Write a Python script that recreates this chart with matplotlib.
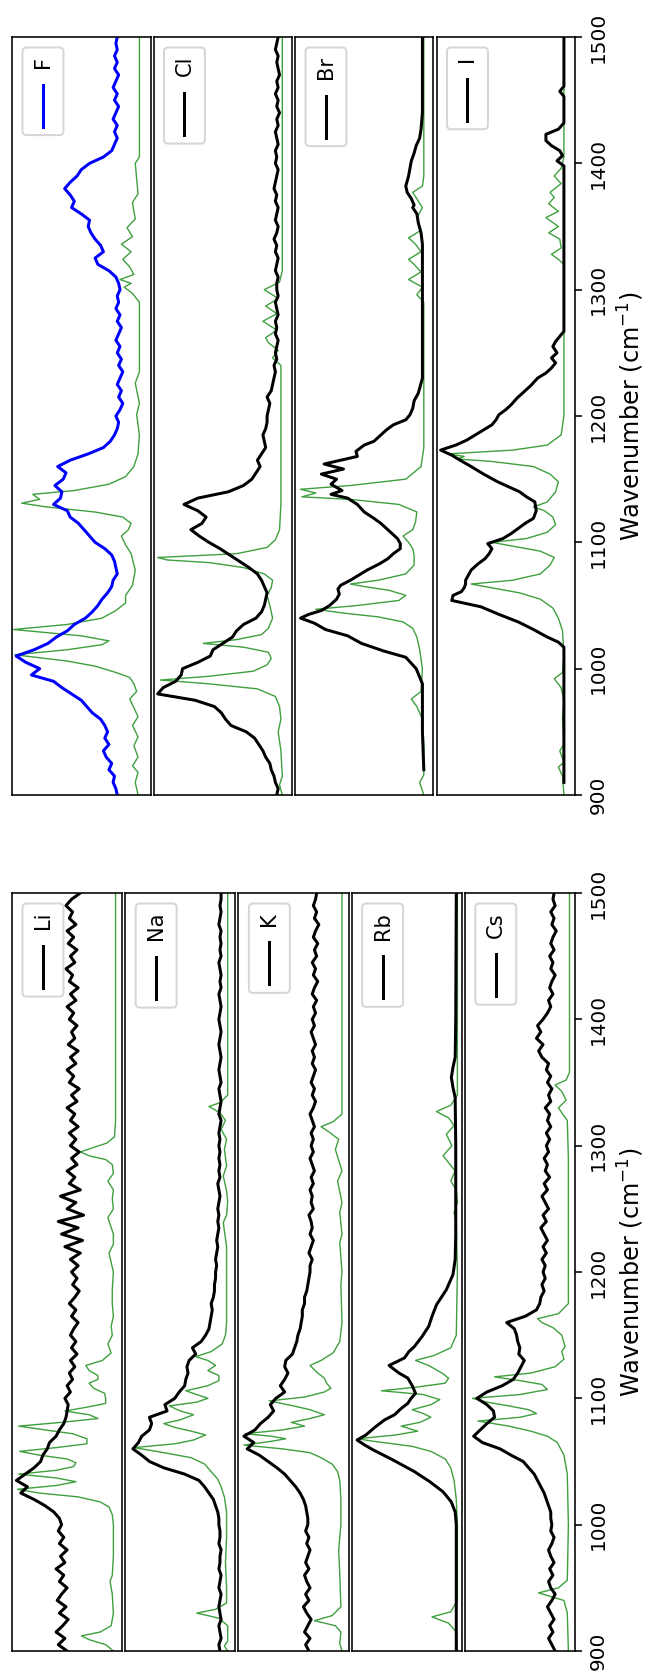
import numpy as np
import matplotlib
matplotlib.use('Agg')
import matplotlib.pyplot as plt
from matplotlib.patches import FancyBboxPatch
from matplotlib.lines import Line2D
from matplotlib.transforms import IdentityTransform

# measured spectra sampled every 5 cm-1 from 900 to 1500 (intensity in % of panel)
wn_grid = np.arange(900, 1505, 5)

li_exp = [50, 58, 52, 60, 54, 49, 57, 51, 59, 55, 50, 57, 53, 60, 52, 56, 50, 57, 53, 58, 55,
          57, 62, 70, 80, 92, 86, 96, 88, 80, 74, 72, 68, 66, 60, 57, 53, 51, 50, 49, 52,
          47, 50, 45, 48, 43, 47, 41, 46, 42, 47, 44, 40, 46, 42, 48, 43, 39, 45, 41, 46,
          40, 47, 38, 52, 36, 55, 40, 58, 35, 50, 42, 56, 38, 48, 43, 50, 41, 46, 39, 47,
          42, 48, 40, 47, 43, 50, 41, 46, 39, 48, 44, 50, 42, 47, 40, 49, 43, 46, 41, 48,
          44, 50, 42, 47, 40, 48, 45, 51, 43, 47, 41, 49, 44, 50, 42, 48, 45, 51, 46, 38]
na_exp = [14, 15, 13, 14, 15, 13, 14, 15, 14, 13, 15, 14, 13, 15, 14, 14, 13, 15, 14, 14, 15,
          15, 16, 18, 20, 24, 28, 33, 46, 65, 78, 85, 93, 88, 85, 78, 76, 78, 62, 64, 55,
          51, 46, 45, 43, 44, 42, 36, 39, 31, 27, 24, 23, 22, 21, 22, 20, 19, 19, 18, 18,
          17, 18, 17, 16, 17, 16, 15, 16, 15, 16, 15, 14, 15, 16, 14, 15, 14, 15, 14, 15,
          14, 15, 14, 13, 15, 14, 13, 14, 15, 13, 14, 15, 14, 13, 14, 15, 14, 13, 14, 15,
          14, 13, 14, 15, 13, 14, 13, 14, 15, 13, 14, 13, 14, 13, 15, 14, 13, 14, 13, 13]
k_exp = [36, 39, 35, 40, 37, 34, 38, 41, 36, 39, 35, 38, 40, 36, 39, 37, 35, 38, 36, 39, 37,
         37, 38, 39, 41, 44, 48, 53, 58, 65, 73, 81, 92, 86, 95, 85, 80, 73, 68, 71, 66,
         58, 62, 58, 55, 58, 57, 51, 49, 47, 46, 44, 43, 42, 42, 40, 40, 38, 37, 36, 35,
         35, 33, 36, 34, 32, 35, 33, 34, 36, 32, 34, 33, 35, 32, 34, 31, 33, 35, 32, 34,
         32, 34, 31, 33, 35, 32, 30, 33, 31, 34, 32, 30, 33, 31, 33, 30, 32, 34, 31, 33,
         30, 32, 29, 33, 31, 28, 32, 30, 33, 29, 31, 28, 32, 30, 27, 31, 29, 32, 30, 29]
cs_exp = [18, 21, 24, 20, 23, 19, 22, 25, 21, 18, 22, 24, 20, 23, 19, 22, 24, 21, 19, 22, 21,
          22, 22, 24, 26, 28, 31, 34, 37, 42, 47, 58, 68, 84, 92, 86, 80, 73, 74, 80, 89,
          80, 66, 56, 52, 49, 46, 51, 50, 52, 53, 55, 62, 45, 35, 32, 31, 28, 30, 27, 29,
          27, 30, 26, 29, 25, 28, 31, 26, 29, 24, 27, 30, 25, 28, 23, 27, 25, 28, 24, 26,
          23, 26, 22, 25, 23, 27, 22, 24, 21, 25, 22, 26, 24, 30, 33, 29, 35, 31, 34, 29,
          25, 22, 24, 20, 23, 21, 18, 22, 20, 23, 19, 22, 20, 17, 21, 19, 22, 18, 20, 19]
f_exp = [24, 25, 27, 26, 30, 28, 32, 34, 30, 33, 31, 33, 36, 42, 46, 50, 57, 64, 70, 86, 80,
         90, 97, 84, 74, 68, 60, 55, 47, 42, 38, 35, 31, 28, 27, 24, 25, 26, 28, 33, 40,
         44, 48, 52, 58, 60, 70, 65, 64, 69, 63, 61, 67, 58, 45, 34, 29, 26, 24, 23, 25,
         22, 20, 23, 21, 24, 22, 20, 23, 21, 24, 22, 25, 23, 21, 24, 22, 25, 23, 24, 22,
         23, 25, 30, 38, 40, 34, 36, 40, 43, 45, 44, 50, 57, 55, 58, 62, 58, 53, 50, 44,
         34, 28, 26, 24, 26, 24, 27, 25, 23, 26, 24, 27, 25, 23, 26, 24, 26, 24, 25, 24]
cl_exp = [11, 10, 12, 13, 15, 16, 19, 21, 24, 27, 33, 44, 48, 51, 56, 70, 97, 93, 84, 80, 79,
          68, 59, 57, 50, 43, 40, 35, 26, 22, 20, 19, 18, 20, 22, 25, 31, 38, 45, 52, 60,
          67, 73, 65, 62, 68, 78, 68, 46, 35, 29, 26, 23, 25, 22, 19, 20, 21, 19, 18, 18,
          17, 16, 18, 15, 14, 13, 12, 13, 11, 12, 11, 10, 12, 11, 12, 10, 11, 12, 10, 11,
          11, 10, 12, 11, 10, 12, 11, 13, 11, 10, 12, 11, 10, 12, 11, 13, 12, 11, 10, 12,
          11, 12, 10, 11, 12, 10, 11, 9, 11, 10, 12, 10, 11, 9, 10, 11, 10, 12, 11, 10]

# smoother measured spectra as (wavenumber, intensity %) pairs
rb_exp = [(900, 5), (1000, 5), (1010, 6), (1018, 9.5), (1026, 17), (1034, 29), (1042, 43),
          (1051, 62), (1059, 80), (1063, 88), (1067, 95), (1071, 87), (1077, 79), (1083, 70),
          (1087, 61), (1092, 55), (1096, 49), (1100, 46), (1104, 42), (1110, 45), (1116, 49),
          (1120, 57), (1126, 66), (1132, 52), (1137, 48), (1141, 43), (1149, 36), (1157, 30),
          (1165, 27), (1174, 23), (1186, 14), (1198, 8), (1210, 6), (1230, 5.5), (1300, 5.5),
          (1338, 6), (1346, 8), (1354, 9.5), (1362, 8), (1370, 6), (1400, 5.5), (1500, 5)]
br_exp = [(920, 7), (950, 8), (988, 8), (1000, 12.5), (1009, 20), (1014, 36), (1020, 52),
          (1026, 62), (1031, 78), (1036, 86), (1040, 96), (1043, 90), (1046, 81), (1050, 75),
          (1055, 70), (1059, 68), (1063, 69), (1066, 67), (1070, 60), (1074, 54), (1078, 48),
          (1083, 39), (1087, 33), (1091, 29), (1095, 24), (1099, 24), (1103, 26), (1107, 30),
          (1111, 34), (1115, 38), (1119, 43), (1124, 50), (1130, 55), (1135, 62), (1138, 74),
          (1141, 66), (1146, 74), (1150, 70), (1154, 81), (1158, 65), (1162, 79), (1166, 63),
          (1168, 55), (1172, 56), (1177, 50), (1180, 43), (1183, 40), (1189, 34), (1193, 29),
          (1197, 20), (1201, 17), (1206, 15), (1212, 14), (1218, 11), (1230, 8), (1300, 8),
          (1336, 8), (1345, 9), (1353, 11), (1360, 12), (1365, 15), (1367, 14), (1372, 16),
          (1377, 19), (1382, 20), (1386, 19), (1390, 18), (1396, 17), (1402, 16), (1408, 14),
          (1414, 12.5), (1420, 10), (1427, 9), (1440, 8), (1500, 8)]
i_exp = [(910, 8), (1017, 8), (1021, 12), (1025, 20), (1031, 30), (1037, 41), (1043, 55),
         (1049, 68), (1054, 89), (1058, 88), (1061, 82), (1064, 80), (1067, 79), (1070, 79),
         (1074, 77), (1078, 75), (1083, 70), (1087, 65), (1091, 62), (1095, 60), (1099, 63),
         (1103, 52), (1107, 46), (1111, 41), (1115, 36), (1119, 30), (1125, 28), (1132, 29),
         (1136, 35), (1140, 40), (1144, 48), (1148, 56), (1154, 66), (1160, 75), (1165, 83),
         (1169, 89), (1173, 97), (1177, 86), (1181, 78), (1185, 72), (1189, 66), (1193, 60),
         (1197, 57), (1201, 55), (1205, 50), (1209, 46), (1214, 42), (1218, 38), (1224, 32),
         (1230, 27), (1234, 21), (1238, 17), (1242, 14), (1246, 17), (1250, 13), (1255, 16),
         (1259, 14), (1263, 11), (1267, 8), (1398, 8), (1402, 13), (1406, 9), (1410, 11),
         (1414, 17), (1418, 21), (1423, 21), (1427, 12), (1432, 8), (1453, 8), (1457, 11),
         (1461, 8), (1500, 8)]

# calculated spectra (green) as (wavenumber, intensity %) pairs
li_calc = [(900, 8), (905, 15), (909, 30), (912, 37), (915, 20), (920, 10), (930, 8), (945, 9),
           (955, 11), (960, 9), (975, 8), (1000, 8), (1008, 9), (1014, 12), (1018, 20), (1022, 40),
           (1025, 75), (1028, 95), (1031, 60), (1034, 42), (1037, 60), (1040, 94), (1043, 60),
           (1046, 44), (1049, 42), (1052, 50), (1055, 75), (1058, 93), (1061, 60), (1064, 32),
           (1068, 32), (1072, 45), (1075, 70), (1078, 94), (1081, 55), (1084, 22), (1087, 30),
           (1090, 52), (1093, 32), (1096, 15), (1100, 15), (1104, 16), (1108, 26), (1112, 30),
           (1115, 22), (1118, 22), (1122, 30), (1126, 33), (1130, 18), (1136, 10), (1143, 13),
           (1150, 9), (1157, 10), (1165, 8), (1175, 9), (1186, 9), (1200, 8), (1215, 12), (1222, 8),
           (1230, 8), (1243, 13), (1250, 8), (1258, 9), (1265, 8), (1272, 13), (1278, 8), (1285, 9),
           (1289, 15), (1292, 30), (1295, 38), (1298, 28), (1302, 14), (1307, 7), (1320, 6), (1500, 6)]
na_calc = [(900, 7), (904, 10), (908, 7), (920, 7), (926, 15), (930, 35), (933, 18), (938, 8),
           (950, 8), (970, 9), (990, 8), (1010, 8), (1022, 10), (1030, 13), (1036, 16), (1042, 22),
           (1048, 28), (1053, 40), (1057, 65), (1061, 92), (1064, 55), (1067, 38), (1071, 27),
           (1074, 40), (1077, 55), (1080, 65), (1083, 50), (1087, 38), (1090, 50), (1094, 60),
           (1097, 35), (1100, 25), (1103, 35), (1106, 45), (1110, 25), (1114, 15), (1118, 15),
           (1122, 25), (1126, 18), (1130, 25), (1133, 36), (1137, 22), (1143, 12), (1150, 9),
           (1160, 8), (1200, 8), (1220, 8), (1239, 11), (1245, 8), (1256, 7), (1264, 8), (1276, 11),
           (1284, 8), (1297, 10), (1305, 8), (1313, 13), (1320, 9), (1326, 14), (1331, 24),
           (1334, 14), (1340, 7), (1500, 7)]
k_calc = [(900, 6), (906, 8), (915, 7), (920, 12), (924, 31), (928, 15), (935, 7), (960, 8),
          (980, 9), (1000, 7), (1020, 7), (1035, 8), (1042, 10), (1048, 15), (1053, 25), (1057, 35),
          (1060, 60), (1063, 95), (1066, 70), (1068, 57), (1070, 70), (1072, 94), (1075, 60),
          (1078, 40), (1081, 52), (1084, 35), (1087, 22), (1091, 35), (1094, 50), (1098, 72),
          (1101, 40), (1105, 22), (1108, 16), (1112, 20), (1116, 22), (1120, 28), (1126, 35),
          (1130, 25), (1136, 14), (1145, 8), (1160, 6), (1190, 7), (1200, 6), (1223, 8), (1230, 6),
          (1247, 8), (1255, 6), (1272, 10), (1280, 6), (1297, 12), (1305, 9), (1311, 18), (1315, 25),
          (1319, 14), (1325, 6), (1500, 6)]
rb_calc = [(900, 4), (915, 5), (922, 12), (927, 27), (931, 10), (940, 4), (1000, 4), (1020, 5),
           (1035, 7), (1045, 10), (1052, 15), (1058, 28), (1062, 45), (1066, 80), (1068, 95),
           (1071, 60), (1074, 40), (1078, 55), (1081, 38), (1085, 28), (1088, 35), (1091, 45),
           (1095, 28), (1099, 20), (1103, 35), (1106, 73), (1109, 40), (1112, 15), (1116, 12),
           (1120, 18), (1126, 30), (1130, 42), (1134, 25), (1140, 10), (1150, 5), (1200, 4),
           (1240, 5), (1247, 7), (1255, 4), (1265, 5), (1272, 10), (1280, 6), (1292, 17), (1300, 9),
           (1309, 14), (1316, 7), (1322, 12), (1327, 23), (1332, 10), (1340, 4), (1500, 4)]
cs_calc = [(900, 6), (930, 7), (940, 10), (946, 33), (950, 15), (956, 7), (1000, 6), (1040, 7),
           (1055, 10), (1065, 16), (1070, 25), (1074, 40), (1078, 60), (1082, 88), (1085, 50),
           (1088, 35), (1091, 42), (1094, 60), (1097, 80), (1100, 93), (1103, 50), (1107, 25),
           (1111, 30), (1114, 50), (1117, 73), (1120, 40), (1125, 18), (1131, 10), (1137, 12),
           (1141, 9), (1150, 12), (1156, 20), (1160, 30), (1163, 34), (1167, 15), (1175, 6),
           (1290, 6), (1320, 7), (1326, 12), (1330, 15), (1336, 8), (1343, 12), (1348, 18),
           (1352, 8), (1358, 5), (1500, 5)]
f_calc = [(900, 9), (910, 11), (918, 9), (923, 13), (930, 9), (939, 12), (946, 9), (955, 13),
          (962, 9), (976, 15), (982, 10), (988, 12), (993, 15), (997, 25), (1002, 40), (1006, 60),
          (1011, 98), (1015, 60), (1019, 35), (1022, 30), (1026, 50), (1031, 99), (1035, 60),
          (1040, 35), (1046, 25), (1052, 18), (1058, 18), (1066, 13), (1078, 11), (1091, 14),
          (1098, 18), (1105, 21), (1110, 16), (1115, 14), (1120, 20), (1124, 40), (1128, 75),
          (1131, 93), (1134, 80), (1138, 85), (1141, 55), (1146, 30), (1152, 18), (1160, 12),
          (1170, 9), (1185, 8), (1201, 10), (1210, 8), (1226, 11), (1235, 8), (1290, 8), (1297, 13),
          (1302, 19), (1305, 14), (1308, 22), (1312, 12), (1318, 15), (1324, 20), (1330, 14),
          (1336, 21), (1342, 13), (1349, 17), (1356, 11), (1362, 12), (1369, 13), (1376, 9),
          (1388, 10), (1400, 11), (1405, 8), (1500, 8)]
cl_calc = [(900, 7), (908, 9), (915, 7), (935, 8), (950, 10), (960, 8), (970, 9), (978, 12),
           (984, 25), (988, 60), (991, 95), (994, 60), (998, 28), (1003, 18), (1008, 15), (1013, 17),
           (1017, 35), (1020, 64), (1023, 40), (1027, 22), (1032, 17), (1040, 14), (1050, 16),
           (1058, 18), (1064, 15), (1070, 14), (1075, 20), (1080, 35), (1084, 60), (1086, 90),
           (1088, 97), (1091, 40), (1096, 18), (1102, 12), (1110, 9), (1130, 8), (1200, 8),
           (1240, 8), (1246, 14), (1252, 10), (1258, 17), (1262, 19), (1268, 11), (1275, 21),
           (1281, 11), (1287, 19), (1293, 10), (1300, 20), (1306, 9), (1315, 7), (1500, 7)]
br_calc = [(900, 7), (910, 10), (916, 7), (940, 7), (960, 8), (970, 12), (976, 16), (982, 9),
           (1000, 8), (1015, 10), (1025, 12), (1032, 15), (1037, 22), (1041, 40), (1044, 65),
           (1047, 85), (1050, 55), (1054, 25), (1058, 20), (1062, 32), (1065, 50), (1067, 60),
           (1070, 40), (1075, 20), (1082, 14), (1090, 14), (1095, 15), (1100, 18), (1105, 22),
           (1110, 15), (1116, 13), (1124, 12), (1130, 25), (1134, 60), (1136, 95), (1139, 85),
           (1142, 96), (1145, 60), (1150, 20), (1160, 9), (1175, 7), (1290, 7), (1296, 12),
           (1302, 8), (1308, 18), (1314, 9), (1320, 14), (1324, 18), (1330, 9), (1336, 13),
           (1341, 18), (1347, 9), (1357, 12), (1365, 8), (1377, 15), (1382, 8), (1390, 7), (1500, 7)]
i_calc = [(900, 8), (915, 9), (922, 12), (926, 8), (935, 11), (940, 8), (960, 9), (975, 8),
          (985, 10), (992, 15), (997, 9), (1010, 8), (1030, 9), (1040, 12), (1048, 16), (1055, 25),
          (1060, 40), (1064, 60), (1067, 75), (1070, 45), (1075, 25), (1082, 18), (1088, 15),
          (1093, 25), (1097, 45), (1100, 60), (1103, 35), (1108, 20), (1114, 14), (1120, 16),
          (1125, 22), (1128, 30), (1132, 20), (1140, 14), (1148, 12), (1154, 18), (1160, 30),
          (1164, 60), (1166, 85), (1168, 80), (1170, 92), (1173, 45), (1177, 20), (1185, 10),
          (1200, 8), (1320, 8), (1324, 12), (1328, 17), (1333, 10), (1340, 11), (1345, 19),
          (1350, 12), (1357, 21), (1362, 12), (1368, 19), (1373, 15), (1377, 18), (1384, 10),
          (1390, 15), (1396, 10), (1405, 8), (1500, 8)]

cations = ['Li', 'Na', 'K', 'Rb', 'Cs']
anions = ['F', 'Cl', 'Br', 'I']

DPI = 144
W, H = 647, 1672
fig = plt.figure(figsize=(W / DPI, H / DPI), dpi=DPI)
fig.patch.set_facecolor('white')


def split(pairs):
    arr = np.array(pairs, dtype=float)
    return arr[:, 0], arr[:, 1]


def add_legend(ax, label, color):
    # hand made legend, turned a quarter so it reads bottom to top
    renderer = fig.canvas.get_renderer()
    bb = ax.get_window_extent(renderer)
    fs = 10.5 * DPI / 72
    t = fig.text(0, 0, label, rotation=90, fontsize=10.5, ha='center', va='center',
                 transform=IdentityTransform(), zorder=6)
    tw = t.get_window_extent(renderer).height
    border = 0.4 * fs
    short = 2 * border + 1.15 * fs
    long = 2 * border + tw + 0.8 * fs + 2.0 * fs
    x0 = bb.x0 + 0.5 * fs
    ytop = bb.y1 - 0.5 * fs
    box = FancyBboxPatch((x0, ytop - long), short, long,
                         boxstyle="round,pad=0,rounding_size=%f" % (0.2 * fs),
                         transform=IdentityTransform(), facecolor='white',
                         edgecolor='0.8', alpha=0.8, lw=1.0, zorder=5)
    fig.add_artist(box)
    t.set_position((x0 + short / 2, ytop - border - tw / 2))
    yh = ytop - border - tw - 0.8 * fs
    fig.add_artist(Line2D([x0 + short / 2] * 2, [yh, yh - 2.0 * fs], color=color, lw=1.5,
                          transform=IdentityTransform(), zorder=6))


def draw_group(names, exps, calcs, top_px, colors):
    n = len(names)
    left, right, gap, height = 12, 575, 3, 758
    w = (right - left - gap * (n - 1)) / n
    axes = []
    for i in range(n):
        x0 = left + i * (w + gap)
        ax = fig.add_axes([x0 / W, 1 - (top_px + height) / H, w / W, height / H])
        cw, cv = split(calcs[i])
        ax.plot(cv / 100, cw, color='green', lw=0.7, alpha=0.75)
        e = exps[i]
        if isinstance(e[0], tuple):
            ew, ev = split(e)
        else:
            ew, ev = wn_grid, np.array(e, dtype=float)
        ax.plot(ev / 100, ew, color=colors[i], lw=1.5)
        ax.set_xlim(1.0, 0.0)
        ax.set_ylim(900, 1500)
        ax.set_xticks([])
        ax.set_yticks([])
        for s in ax.spines.values():
            s.set_linewidth(0.8)
        axes.append(ax)
    last = axes[-1]
    last.yaxis.tick_right()
    last.set_yticks(range(900, 1501, 100))
    last.tick_params(axis='y', labelsize=10, labelrotation=90, length=3.5, width=0.8)
    for lab in last.get_yticklabels():
        lab.set_va('center')
    last.yaxis.set_label_position('right')
    last.set_ylabel('Wavenumber (cm$^{-1}$)', fontsize=12, rotation=90, labelpad=4)
    for ax, name, c in zip(axes, names, colors):
        add_legend(ax, name, c)
    return axes


draw_group(anions, [f_exp, cl_exp, br_exp, i_exp], [f_calc, cl_calc, br_calc, i_calc], 37,
           ['blue', 'black', 'black', 'black'])
draw_group(cations, [li_exp, na_exp, k_exp, rb_exp, cs_exp],
           [li_calc, na_calc, k_calc, rb_calc, cs_calc], 893, ['black'] * 5)

fig.savefig('out.png', dpi=DPI)
